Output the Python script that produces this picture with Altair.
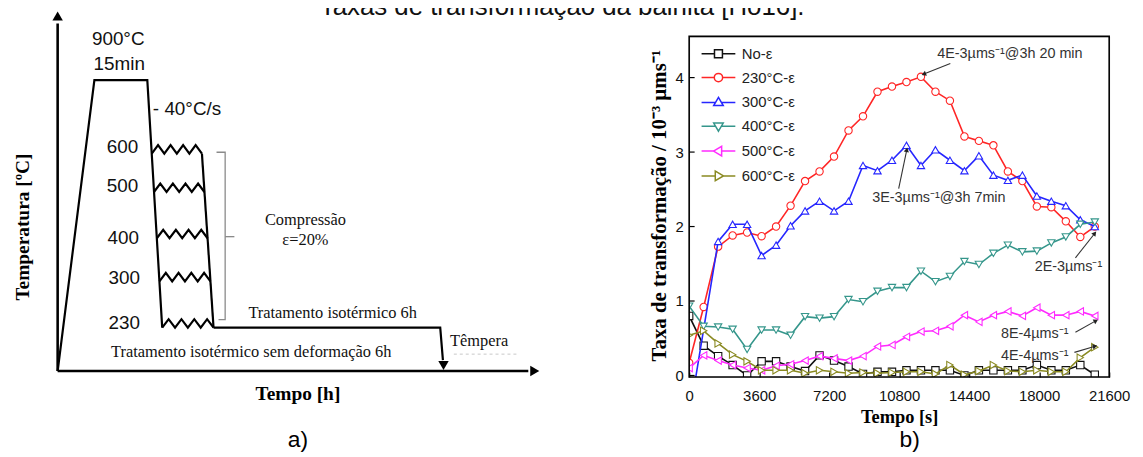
import math
import altair as alt
import pandas as pd

# ---------------- right panel (b) data ----------------
SERIES = ["No-ε", "230°C-ε", "300°C-ε", "400°C-ε", "500°C-ε", "600°C-ε"]
COLORS = ["#111111", "#ff2626", "#2626ff", "#35968b", "#ff2bff", "#8a8a22"]
SHAPES = ["square", "circle", "triangle-up", "triangle-down", "triangle-left", "triangle-right"]

TIME_S = [0, 745, 1490, 2235, 2980, 3725, 4470, 5215, 5960, 6705, 7450, 8195, 8940,
          9685, 10430, 11175, 11920, 12665, 13410, 14155, 14900, 15645, 16390,
          17135, 17880, 18625, 19370, 20115, 20860]

NO_EPS = [0.80, 0.40, 0.26, 0.14, 0.00, 0.19, 0.19, 0.12, 0.06, 0.27, 0.20, 0.12, 0.02,
          0.05, 0.05, 0.07, 0.07, 0.07, 0.07, 0.00, 0.07, 0.07, 0.07, 0.07, 0.14,
          0.07, 0.07, 0.14, 0.01]
T230 = [0.17, 0.92, 1.73, 1.88, 1.92, 1.87, 2.00, 2.28, 2.61, 2.74, 2.94, 3.29, 3.48,
        3.81, 3.88, 3.94, 4.01, 3.81, 3.69, 3.21, 3.15, 3.09, 2.74, 2.61, 2.27,
        2.26, 2.07, 1.86, 2.00]
T300 = [-0.56, None, 1.80, 2.03, 2.03, 1.61, 1.75, 2.01, 2.21, 2.34, 2.21, 2.34, 2.82,
        2.75, 2.89, 3.09, 2.82, 3.03, 2.89, 2.75, 2.95, 2.69, 2.62, 2.69, 2.41,
        2.34, 2.28, 2.09, 2.00]
T400 = [0.93, 0.66, 0.65, 0.62, 0.35, 0.61, 0.61, 0.54, 0.79, 0.77, 0.79, 1.02, 0.99,
        1.13, 1.18, 1.18, 1.40, 1.26, 1.33, 1.53, 1.49, 1.64, 1.75, 1.66, 1.67,
        1.78, 1.86, 2.03, 2.06]
T500 = [0.10, 0.27, 0.20, 0.14, 0.10, 0.07, 0.13, 0.15, 0.20, 0.26, 0.23, 0.20, 0.26,
        0.39, 0.41, 0.52, 0.59, 0.60, 0.66, 0.81, 0.72, 0.81, 0.86, 0.80, 0.91,
        0.81, 0.81, 0.86, 0.80]
T600 = [0.54, 0.60, 0.43, 0.28, 0.19, 0.07, 0.07, 0.07, 0.03, 0.07, 0.05, 0.03, 0.04,
        0.03, 0.04, 0.05, 0.05, 0.02, 0.14, 0.01, 0.06, 0.14, 0.06, 0.05, 0.07,
        0.05, 0.05, 0.24, 0.38]
VALUES = [NO_EPS, T230, T300, T400, T500, T600]

X_TICKS = [0, 3600, 7200, 10800, 14400, 18000, 21600]
Y_TICKS = [0, 0.5, 1, 1.5, 2, 2.5, 3, 3.5, 4, 4.5]
X_DOMAIN = [0, 21600]
Y_DOMAIN = [-0.02, 4.553]

NOTE_TEXT = ["4E-3µms⁻¹@3h 20 min", "3E-3µms⁻¹@3h 7min", "2E-3µms⁻¹", "8E-4µms⁻¹", "4E-4µms⁻¹"]
NOTE_T = [16494, 12843, 19506, 17770, 17770]
NOTE_V = [4.31, 2.38, 1.45, 0.55, 0.26]
ARROW_T0 = [13430, 10774, 19864, 19864, 19813]
ARROW_V0 = [4.19, 2.51, 1.58, 0.58, 0.31]
ARROW_T1 = [12102, 11183, 20834, 20885, 20834]
ARROW_V1 = [4.05, 3.02, 1.90, 0.73, 0.39]

# legend glyphs: a short line with a hollow marker in its middle (unit = 4 px)
LEGEND_PATHS = [
    "M-2,0L1.25,0M3.25,0L6.5,0M1.25,-1L3.25,-1L3.25,1L1.25,1Z",
    "M-2,0L1.2,0M3.3,0L6.5,0M3.3,0A1.05,1.05,0,1,1,1.2,0A1.05,1.05,0,1,1,3.3,0Z",
    "M-2,0L1.55,0M2.95,0L6.5,0M2.25,-1.25L3.45,0.8L1.05,0.8Z",
    "M-2,0L1.55,0M2.95,0L6.5,0M2.25,1.25L3.45,-0.8L1.05,-0.8Z",
    "M-2,0L1.0,0M3.05,0L6.5,0M1.0,0L3.05,-1.2L3.05,1.2Z",
    "M-2,0L1.45,0M3.5,0L6.5,0M3.5,0L1.45,-1.2L1.45,1.2Z",
]

# ---------------- left panel (a) schematic, diagram units ----------------
PROFILE_U = [0, 37, 90.3, 105.3]
PROFILE_W = [0, 293, 293, 43.7]
ISO_U = [157, 385.3, 388.0]
ISO_W = [43.7, 43.7, 11]
SECOND_U = [145.3, 157]
SECOND_W = [219, 43.7]
ZZ_LEFT = [94.8, 97.0, 99.9, 102.5, 105.3]
ZZ_RIGHT = [145.3, 147.8, 151.0, 153.9, 157.0]
ZZ_LEVEL = [219, 180.3, 133.7, 90.3, 43.7]
BRACKET_U = [160, 168.7, 168.7, 162]
BRACKET_W = [220.3, 220.3, 51.7, 51.7]
NUB_U = [168.7, 178]
NUB_W = [135.3, 135.3]

SANS_TXT = ["900°C", "15min", "- 40°C/s", "600", "500", "400", "300", "230"]
SANS_U = [61, 62, 130.3, 65.3, 65.3, 66, 67, 67]
SANS_W = [334, 309, 264, 225.3, 186, 134, 93.7, 48.7]
SERIF_TXT = ["Compressão", "ε=20%", "Tratamento isotérmico 6h",
             "Tratamento isotérmico sem deformação 6h", "Têmpera"]
SERIF_U = [249.5, 249.5, 277, 195, 424.5]
SERIF_W = [152, 132, 58.7, 18.7, 30]

SX_DOMAIN = [636, 1059]
SY_DOMAIN = [-6, 337]

SANSF = "Liberation Sans"
SERIFF = "Liberation Serif"

# ---------------- right panel layers ----------------
x_axis = alt.Axis(values=X_TICKS, format="d", offset=-5, tickSize=5, tickColor="#000",
                  tickWidth=1.2, domain=False, grid=False, labelPadding=12,
                  labelFont=SANSF, labelFontSize=15, labelColor="#111",
                  labelFlush=False, labelOverlap=False, title="Tempo [s]",
                  titleFont=SERIFF, titleFontWeight="bold", titleFontSize=18.5,
                  titleColor="#000", titleX=211.5, titleY=45, titleBaseline="middle",
                  titleAlign="center")
y_axis = alt.Axis(values=Y_TICKS, format="d", offset=-5, tickSize=5, tickColor="#000",
                  tickWidth=1.2, domain=False, grid=False, labelPadding=6,
                  labelExpr="datum.value % 1 == 0 ? datum.label : ''",
                  labelFont=SANSF, labelFontSize=15, labelColor="#111",
                  title="Taxa de transformação / 10⁻³ µms⁻¹", titleFont=SERIFF,
                  titleFontWeight="bold", titleFontSize=21, titleColor="#000",
                  titleX=-35, titleY=170, titleAngle=270, titleBaseline="middle",
                  titleAlign="center")
xs = alt.Scale(domain=X_DOMAIN, nice=False, zero=False)
ys = alt.Scale(domain=Y_DOMAIN, nice=False, zero=False)
x_enc = alt.X("t:Q", scale=xs, axis=x_axis)
y_enc = alt.Y("v:Q", scale=ys, axis=y_axis)

right_layers = []
for name, vals, col, shp in zip(SERIES, VALUES, COLORS, SHAPES):
    df = pd.DataFrame({"t": TIME_S, "v": vals}).dropna()
    right_layers.append(alt.Chart(df).mark_line(color=col, strokeWidth=1.6, clip=True)
                        .encode(x=x_enc, y=y_enc))
    right_layers.append(alt.Chart(df).mark_point(shape=shp, size=55, filled=True, fill="white",
                                                 stroke=col, strokeWidth=1.1, opacity=1,
                                                 clip=True)
                        .encode(x=x_enc, y=y_enc))

arrow_df = pd.DataFrame({"t0": ARROW_T0, "v0": ARROW_V0, "t1": ARROW_T1, "v1": ARROW_V1})
arrow_df["ang"] = [
    math.degrees(math.atan2((b - a) * 423 / 21600, (d - c) * 343 / 4.573)) % 360
    for a, b, c, d in zip(ARROW_T0, ARROW_T1, ARROW_V0, ARROW_V1)
]
right_layers.append(alt.Chart(arrow_df).mark_rule(color="#333", strokeWidth=1.1)
                    .encode(x=alt.X("t0:Q", scale=xs, axis=x_axis),
                            y=alt.Y("v0:Q", scale=ys, axis=y_axis),
                            x2="t1:Q", y2="v1:Q"))
right_layers.append(alt.Chart(arrow_df).mark_point(shape="triangle", filled=True, color="#222",
                                                   size=28, opacity=1)
                    .encode(x=alt.X("t1:Q", scale=xs, axis=x_axis),
                            y=alt.Y("v1:Q", scale=ys, axis=y_axis),
                            angle=alt.Angle("ang:Q", scale=None)))
note_df = pd.DataFrame({"t": NOTE_T, "v": NOTE_V, "txt": NOTE_TEXT})
right_layers.append(alt.Chart(note_df).mark_text(font=SANSF, fontSize=14.5, color="#333",
                                                 align="center", baseline="middle")
                    .encode(x=x_enc, y=y_enc, text="txt:N"))

# frame of the plot area, spanning the axis domains
frame_df = pd.DataFrame({"t": [X_DOMAIN[0]], "t2": [X_DOMAIN[1]],
                         "v": [Y_DOMAIN[0]], "v2": [Y_DOMAIN[1]]})
right_layers.append(alt.Chart(frame_df).mark_rect(filled=False, stroke="#000", strokeWidth=1.6,
                                                  fillOpacity=0)
                    .encode(x=x_enc, x2="t2:Q", y=y_enc, y2="v2:Q"))

legend = alt.Legend(title=None, orient="none", legendX=13, legendY=10, direction="vertical",
                    padding=0, symbolSize=64, symbolStrokeWidth=1.5, labelOffset=25,
                    labelFont=SANSF, labelFontSize=15, labelColor="#222", rowPadding=8,
                    symbolFillColor="white")
leg_df = pd.DataFrame({"t": [0] * 6, "v": [0] * 6, "series": SERIES})
right_layers.append(alt.Chart(leg_df).mark_point(size=64, opacity=1, filled=False)
                    .encode(x=x_enc, y=y_enc,
                            color=alt.Color("series:N", sort=SERIES,
                                            scale=alt.Scale(domain=SERIES, range=COLORS), legend=legend),
                            shape=alt.Shape("series:N", sort=SERIES,
                                            scale=alt.Scale(domain=SERIES, range=LEGEND_PATHS), legend=legend))
                    .transform_filter("false"))

right = alt.layer(*right_layers)

# ---------------- left panel layers ----------------
su = alt.Scale(domain=SX_DOMAIN, nice=False, zero=False)
sw = alt.Scale(domain=SY_DOMAIN, nice=False, zero=False)
ux = alt.X("u:Q", scale=su, axis=None)
wy = alt.Y("w:Q", scale=sw, axis=None)

rows = []
def add_path(name, us, ws):
    for k, (a, b) in enumerate(zip(us, ws)):
        rows.append({"seg": name, "o": k, "u": a, "w": b})

add_path("profile", PROFILE_U, PROFILE_W)
add_path("iso", ISO_U, ISO_W)
add_path("second", SECOND_U, SECOND_W)
for j, (a, b, lev) in enumerate(zip(ZZ_LEFT, ZZ_RIGHT, ZZ_LEVEL)):
    us = [a + k * (b - a) / 8 for k in range(9)]
    ws = [lev + (8.5 if k % 2 else 0) for k in range(9)]
    add_path(f"zz{j}", us, ws)
path_df = pd.DataFrame(rows)

axes_df = pd.DataFrame({"seg": ["y", "y", "x", "x"], "o": [0, 1, 0, 1],
                        "u": [0, 0, 0, 474], "w": [0, 350, 0, 0]})
heads_df = pd.DataFrame({"u": [0, 479, 388.6], "w": [356, 0, 7], "ang": [0, 90, 180]})
bracket_df = pd.DataFrame({"seg": ["b"] * 4 + ["n"] * 2, "o": [0, 1, 2, 3, 0, 1],
                           "u": BRACKET_U + NUB_U, "w": BRACKET_W + NUB_W})
dash_df = pd.DataFrame({"u": [399], "u2": [463], "w": [17]})

left_layers = [
    alt.Chart(axes_df).mark_line(color="#000", strokeWidth=2.6)
    .encode(x=ux, y=wy, detail="seg:N", order="o:Q"),
    alt.Chart(heads_df).mark_point(shape="triangle", filled=True, color="#000", size=110, opacity=1)
    .encode(x=ux, y=wy, angle=alt.Angle("ang:Q", scale=None)),
    alt.Chart(path_df).mark_line(color="#000", strokeWidth=2.2, strokeJoin="miter")
    .encode(x=ux, y=wy, detail="seg:N", order="o:Q"),
    alt.Chart(bracket_df).mark_line(color="#8a8a8a", strokeWidth=1.3)
    .encode(x=ux, y=wy, detail="seg:N", order="o:Q"),
    alt.Chart(dash_df).mark_rule(color="#c8c8c8", strokeWidth=1, strokeDash=[3, 3])
    .encode(x=ux, x2="u2:Q", y=wy),
    alt.Chart(pd.DataFrame({"u": SANS_U, "w": SANS_W, "txt": SANS_TXT}))
    .mark_text(font=SANSF, fontSize=19, color="#111", align="center", baseline="middle")
    .encode(x=ux, y=wy, text="txt:N"),
    alt.Chart(pd.DataFrame({"u": SERIF_U, "w": SERIF_W, "txt": SERIF_TXT}))
    .mark_text(font=SERIFF, fontSize=16.5, color="#111", align="center", baseline="middle")
    .encode(x=ux, y=wy, text="txt:N"),
    alt.Chart(pd.DataFrame({"u": [242], "w": [-23], "txt": ["Tempo [h]"]}))
    .mark_text(font=SERIFF, fontSize=19.5, fontWeight="bold", color="#000", align="center",
               baseline="middle")
    .encode(x=ux, y=wy, text="txt:N"),
    alt.Chart(pd.DataFrame({"u": [-35], "w": [145], "txt": ["Temperatura [ºC]"]}))
    .mark_text(font=SERIFF, fontSize=19.5, fontWeight="bold", color="#000", align="center",
               baseline="middle", angle=270)
    .encode(x=ux, y=wy, text="txt:N"),
    alt.Chart(pd.DataFrame({"u": [242, 858], "w": [-70, -70], "txt": ["a)", "b)"]}))
    .mark_text(font=SANSF, fontSize=23, color="#000", align="center", baseline="middle")
    .encode(x=ux, y=wy, text="txt:N"),
    alt.Chart(pd.DataFrame({"u": [264], "w": [359],
                            "txt": ["Taxas de transformação da bainita [Ho16]."]}))
    .mark_text(font=SANSF, fontSize=26, color="#111", align="left", baseline="alphabetic")
    .encode(x=ux, y=wy, text="txt:N"),
]
left = alt.layer(*left_layers)

chart = (
    alt.layer(right, left)
    .resolve_scale(x="independent", y="independent")
    .properties(width=423, height=343,
                padding={"left": 686, "top": 27, "right": 26, "bottom": 79},
                autosize=alt.AutoSizeParams(type="none"))
    .configure_view(stroke=None)
    .configure(background="white")
)

chart.save("out.html", embed_options={"renderer": "svg", "actions": False})
